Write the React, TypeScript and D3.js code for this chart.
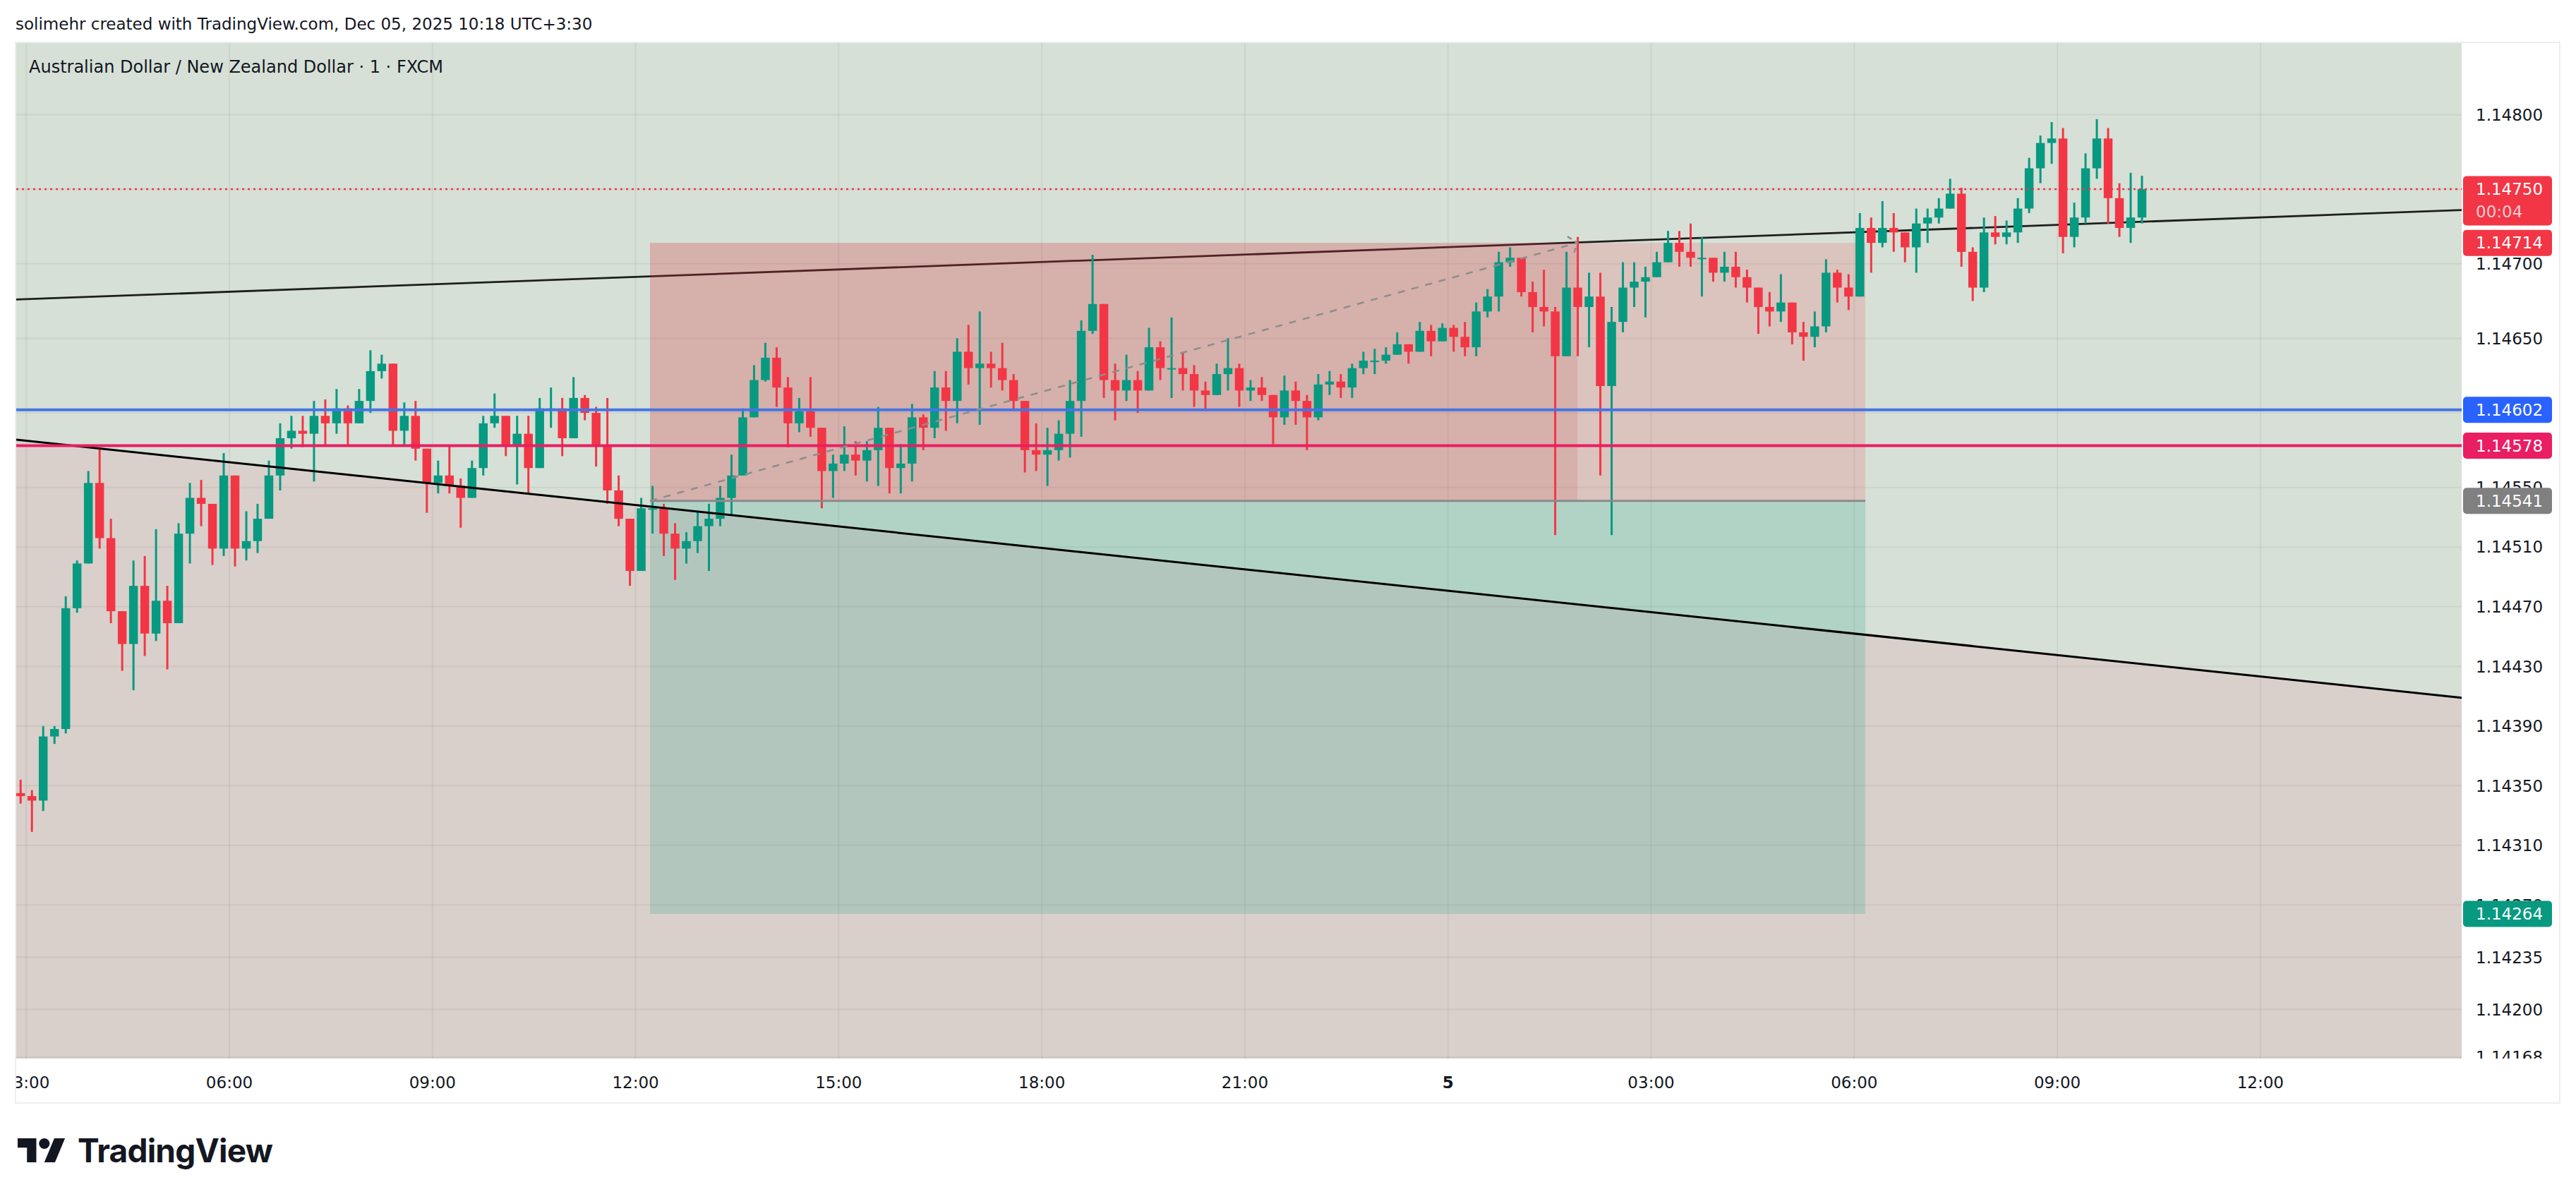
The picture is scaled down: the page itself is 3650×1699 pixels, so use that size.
import React, { useEffect, useRef } from 'react'
import * as d3 from 'd3'

const W = 3650, H = 1699
const plot = { left: 23, top: 61, right: 3488, bottom: 1500 }
const font = '"DejaVu Sans", Verdana, sans-serif'

// AUD/NZD, read off the 1 minute chart and grouped into 10 minute bars
// first bar starts 4 Dec 02:50, last one is 5 Dec 10:10
const firstBar = new Date(2025, 11, 4, 2, 50)
const barMinutes = 10
const firstOpen = 1.14345

const highs = [
  1.14354, 1.14347, 1.14390, 1.14390, 1.14477, 1.14501, 1.14561, 1.14576, 1.14529, 1.14457,
  1.14501, 1.14504, 1.14522, 1.14484, 1.14526, 1.14553, 1.14555, 1.14539, 1.14573, 1.14558,
  1.14534, 1.14539, 1.14568, 1.14593, 1.14598, 1.14598, 1.14608, 1.14609, 1.14616, 1.14605,
  1.14616, 1.14642, 1.14639, 1.14630, 1.14607, 1.14608, 1.14573, 1.14568, 1.14578, 1.14556,
  1.14568, 1.14598, 1.14613, 1.14598, 1.14598, 1.14598, 1.14610, 1.14617, 1.14610, 1.14624,
  1.14612, 1.14604, 1.14610, 1.14558, 1.14529, 1.14543, 1.14551, 1.14539, 1.14526, 1.14520,
  1.14534, 1.14539, 1.14551, 1.14572, 1.14603, 1.14632, 1.14647, 1.14644, 1.14624, 1.14610,
  1.14624, 1.14584, 1.14572, 1.14591, 1.14581, 1.14581, 1.14604, 1.14588, 1.14579, 1.14606,
  1.14599, 1.14628, 1.14628, 1.14650, 1.14659, 1.14668, 1.14641, 1.14647, 1.14626, 1.14608,
  1.14593, 1.14590, 1.14595, 1.14622, 1.14662, 1.14706, 1.14659, 1.14633, 1.14639, 1.14628,
  1.14657, 1.14648, 1.14664, 1.14641, 1.14632, 1.14621, 1.14633, 1.14650, 1.14633, 1.14622,
  1.14624, 1.14608, 1.14625, 1.14621, 1.14612, 1.14626, 1.14628, 1.14626, 1.14633, 1.14641,
  1.14643, 1.14644, 1.14654, 1.14646, 1.14661, 1.14659, 1.14660, 1.14659, 1.14661, 1.14674,
  1.14683, 1.14708, 1.14711, 1.14704, 1.14688, 1.14696, 1.14671, 1.14708, 1.14718, 1.14694,
  1.14694, 1.14671, 1.14701, 1.14701, 1.14698, 1.14708, 1.14722, 1.14722, 1.14727, 1.14718,
  1.14704, 1.14708, 1.14708, 1.14696, 1.14684, 1.14681, 1.14693, 1.14671, 1.14661, 1.14668,
  1.14703, 1.14696, 1.14693, 1.14734, 1.14731, 1.14742, 1.14734, 1.14718, 1.14737, 1.14737,
  1.14744, 1.14757, 1.14751, 1.14711, 1.14731, 1.14732, 1.14729, 1.14744, 1.14771, 1.14786,
  1.14795, 1.14791, 1.14741, 1.14774, 1.14797, 1.14791, 1.14754, 1.14761, 1.14759,
]

const lows = [
  1.14338, 1.14319, 1.14333, 1.14378, 1.14385, 1.14466, 1.14519, 1.14509, 1.14459, 1.14427,
  1.14414, 1.14437, 1.14447, 1.14428, 1.14459, 1.14499, 1.14524, 1.14498, 1.14504, 1.14497,
  1.14501, 1.14506, 1.14531, 1.14548, 1.14576, 1.14577, 1.14554, 1.14578, 1.14586, 1.14578,
  1.14595, 1.14600, 1.14623, 1.14578, 1.14578, 1.14568, 1.14533, 1.14546, 1.14546, 1.14523,
  1.14546, 1.14558, 1.14590, 1.14571, 1.14552, 1.14546, 1.14566, 1.14590, 1.14571, 1.14583,
  1.14595, 1.14564, 1.14539, 1.14524, 1.14484, 1.14494, 1.14519, 1.14504, 1.14488, 1.14499,
  1.14506, 1.14494, 1.14524, 1.14531, 1.14558, 1.14597, 1.14621, 1.14604, 1.14577, 1.14587,
  1.14584, 1.14536, 1.14543, 1.14561, 1.14558, 1.14554, 1.14551, 1.14546, 1.14546, 1.14554,
  1.14575, 1.14583, 1.14588, 1.14593, 1.14619, 1.14592, 1.14617, 1.14615, 1.14601, 1.14560,
  1.14561, 1.14551, 1.14568, 1.14570, 1.14584, 1.14653, 1.14610, 1.14595, 1.14608, 1.14600,
  1.14615, 1.14622, 1.14610, 1.14615, 1.14604, 1.14601, 1.14612, 1.14615, 1.14604, 1.14608,
  1.14608, 1.14579, 1.14592, 1.14592, 1.14575, 1.14595, 1.14612, 1.14610, 1.14610, 1.14626,
  1.14626, 1.14633, 1.14639, 1.14633, 1.14641, 1.14638, 1.14648, 1.14641, 1.14638, 1.14638,
  1.14664, 1.14668, 1.14698, 1.14678, 1.14654, 1.14658, 1.14518, 1.14638, 1.14638, 1.14644,
  1.14558, 1.14518, 1.14654, 1.14671, 1.14664, 1.14691, 1.14701, 1.14698, 1.14698, 1.14678,
  1.14688, 1.14688, 1.14684, 1.14674, 1.14653, 1.14658, 1.14661, 1.14646, 1.14635, 1.14644,
  1.14654, 1.14674, 1.14669, 1.14678, 1.14694, 1.14711, 1.14708, 1.14701, 1.14694, 1.14714,
  1.14727, 1.14737, 1.14698, 1.14675, 1.14681, 1.14713, 1.14713, 1.14714, 1.14734, 1.14754,
  1.14767, 1.14707, 1.14711, 1.14727, 1.14757, 1.14727, 1.14718, 1.14714, 1.14727,
]

const closes = [
  1.14343, 1.14340, 1.14383, 1.14388, 1.14469, 1.14499, 1.14553, 1.14516, 1.14467, 1.14445,
  1.14484, 1.14452, 1.14474, 1.14459, 1.14519, 1.14543, 1.14539, 1.14509, 1.14558, 1.14509,
  1.14514, 1.14529, 1.14558, 1.14583, 1.14588, 1.14586, 1.14598, 1.14593, 1.14603, 1.14593,
  1.14608, 1.14628, 1.14633, 1.14588, 1.14598, 1.14576, 1.14553, 1.14558, 1.14551, 1.14543,
  1.14563, 1.14593, 1.14598, 1.14578, 1.14586, 1.14563, 1.14603, 1.14603, 1.14583, 1.14610,
  1.14600, 1.14578, 1.14548, 1.14529, 1.14494, 1.14536, 1.14536, 1.14519, 1.14509, 1.14514,
  1.14524, 1.14529, 1.14543, 1.14558, 1.14597, 1.14622, 1.14637, 1.14617, 1.14593, 1.14601,
  1.14590, 1.14561, 1.14566, 1.14572, 1.14568, 1.14575, 1.14590, 1.14563, 1.14566, 1.14597,
  1.14590, 1.14617, 1.14608, 1.14641, 1.14630, 1.14633, 1.14630, 1.14622, 1.14608, 1.14575,
  1.14572, 1.14575, 1.14586, 1.14608, 1.14655, 1.14673, 1.14622, 1.14615, 1.14622, 1.14615,
  1.14644, 1.14630, 1.14630, 1.14626, 1.14615, 1.14612, 1.14626, 1.14630, 1.14615, 1.14617,
  1.14612, 1.14597, 1.14615, 1.14608, 1.14597, 1.14619, 1.14621, 1.14617, 1.14630, 1.14635,
  1.14635, 1.14639, 1.14646, 1.14641, 1.14655, 1.14648, 1.14657, 1.14651, 1.14644, 1.14668,
  1.14678, 1.14701, 1.14704, 1.14681, 1.14671, 1.14668, 1.14638, 1.14684, 1.14671, 1.14678,
  1.14618, 1.14661, 1.14684, 1.14688, 1.14691, 1.14701, 1.14714, 1.14708, 1.14704, 1.14704,
  1.14694, 1.14698, 1.14691, 1.14684, 1.14671, 1.14668, 1.14674, 1.14654, 1.14651, 1.14658,
  1.14694, 1.14684, 1.14678, 1.14724, 1.14714, 1.14724, 1.14721, 1.14711, 1.14727, 1.14731,
  1.14737, 1.14747, 1.14708, 1.14684, 1.14721, 1.14718, 1.14721, 1.14737, 1.14764, 1.14781,
  1.14784, 1.14718, 1.14731, 1.14764, 1.14784, 1.14744, 1.14724, 1.14731, 1.14750,
]

const timeDomain = [new Date(2025, 11, 4, 2, 51, 6), new Date(2025, 11, 5, 14, 58, 20)]
const priceDomain = [1.14167, 1.14848]

const priceTicks = [1.148, 1.1475, 1.147, 1.1465, 1.146, 1.1455, 1.1451, 1.1447, 1.1443,
  1.1439, 1.1435, 1.1431, 1.1427, 1.14235, 1.142, 1.14168]
const timeTicks = [
  new Date(2025, 11, 4, 3), new Date(2025, 11, 4, 6), new Date(2025, 11, 4, 9),
  new Date(2025, 11, 4, 12), new Date(2025, 11, 4, 15), new Date(2025, 11, 4, 18),
  new Date(2025, 11, 4, 21), new Date(2025, 11, 5, 0), new Date(2025, 11, 5, 3),
  new Date(2025, 11, 5, 6), new Date(2025, 11, 5, 9), new Date(2025, 11, 5, 12),
]
const timeLabels = ['03:00', '06:00', '09:00', '12:00', '15:00', '18:00', '21:00', '5',
  '03:00', '06:00', '09:00', '12:00']

// drawings
const upperTrend = [1.14676, 1.14736] // at left / right edge of the time domain
const lowerTrend = [1.14582, 1.14409]
const bluePrice = 1.14602
const pinkPrice = 1.14578
const shortEntry = 1.14541
const shortStop = 1.14714
const shortTarget = 1.14264
const shortStart = new Date(2025, 11, 4, 12, 12, 46)
const shortClosed = new Date(2025, 11, 5, 1, 54, 36)
const shortEnd = new Date(2025, 11, 5, 6, 9, 50)
const lastPrice = 1.1475
const countdown = '00:04'

const UP = '#089981', DOWN = '#f23645'

export default function App() {
  const ref = useRef<SVGSVGElement>(null)

  useEffect(() => {
    const svg = d3.select(ref.current)
    svg.selectAll('*').remove()

    const x = d3.scaleTime().domain(timeDomain).range([plot.left, plot.right])
    const y = d3.scaleLinear().domain(priceDomain).range([plot.bottom, plot.top])
    const fmt = d3.format('.5f')

    const defs = svg.append('defs')
    defs.append('clipPath').attr('id', 'plotClip').append('rect')
      .attr('x', plot.left).attr('y', plot.top)
      .attr('width', plot.right - plot.left).attr('height', plot.bottom - plot.top)
    defs.append('clipPath').attr('id', 'axisClip').append('rect')
      .attr('x', plot.right).attr('y', plot.top).attr('width', 200).attr('height', plot.bottom - plot.top)
    defs.append('clipPath').attr('id', 'timeClip').append('rect')
      .attr('x', plot.left - 2).attr('y', plot.bottom).attr('width', plot.right - plot.left + 2).attr('height', 70)

    svg.append('rect').attr('width', W).attr('height', H).attr('fill', '#ffffff')

    const g = svg.append('g').attr('clip-path', 'url(#plotClip)')

    // backgrounds
    g.append('rect')
      .attr('x', plot.left).attr('y', plot.top)
      .attr('width', plot.right - plot.left).attr('height', plot.bottom - plot.top)
      .attr('fill', '#d6e0d6')
    g.append('path')
      .attr('d', `M${plot.left},${y(lowerTrend[0])}L${plot.right},${y(lowerTrend[1])}L${plot.right},${plot.bottom}L${plot.left},${plot.bottom}Z`)
      .attr('fill', '#d9d0cb')

    // grid
    g.selectAll('.hgrid').data(priceTicks).enter().append('line')
      .attr('x1', plot.left).attr('x2', plot.right)
      .attr('y1', d => y(d)).attr('y2', d => y(d))
      .attr('stroke', 'rgba(0,0,0,0.05)').attr('stroke-width', 2)
    g.selectAll('.vgrid').data(timeTicks).enter().append('line')
      .attr('x1', d => x(d)).attr('x2', d => x(d))
      .attr('y1', plot.top).attr('y2', plot.bottom)
      .attr('stroke', 'rgba(0,0,0,0.05)').attr('stroke-width', 2)

    // upper trendline sits under the position box
    g.append('line')
      .attr('x1', x(timeDomain[0])).attr('y1', y(upperTrend[0]))
      .attr('x2', x(timeDomain[1])).attr('y2', y(upperTrend[1]))
      .attr('stroke', '#1e1e1e').attr('stroke-width', 2.8)

    // short position
    g.append('rect')
      .attr('x', x(shortStart)).attr('y', y(shortStop))
      .attr('width', x(shortEnd) - x(shortStart)).attr('height', y(shortEntry) - y(shortStop))
      .attr('fill', 'rgba(242,54,69,0.17)')
    g.append('rect')
      .attr('x', x(shortStart)).attr('y', y(shortStop))
      .attr('width', x(shortClosed) - x(shortStart)).attr('height', y(shortEntry) - y(shortStop))
      .attr('fill', 'rgba(180,40,40,0.12)')
    g.append('rect')
      .attr('x', x(shortStart)).attr('y', y(shortEntry))
      .attr('width', x(shortEnd) - x(shortStart)).attr('height', y(shortTarget) - y(shortEntry))
      .attr('fill', 'rgba(8,153,129,0.18)')

    // candles
    const bars = closes.map((c, i) => {
      const o = i === 0 ? firstOpen : closes[i - 1]
      return {
        t: d3.timeMinute.offset(firstBar, i * barMinutes),
        o, c,
        h: Math.max(highs[i], o, c),
        l: Math.min(lows[i], o, c),
      }
    })
    const slot = x(d3.timeMinute.offset(firstBar, barMinutes)) - x(firstBar)
    const bodyW = slot * 0.78
    const cx = (d: any) => x(d3.timeMinute.offset(d.t, barMinutes / 2))
    const candle = g.selectAll('.bar').data(bars).enter().append('g')
    candle.append('line')
      .attr('x1', cx).attr('x2', cx)
      .attr('y1', d => y(d.h)).attr('y2', d => y(d.l))
      .attr('stroke', d => d.c >= d.o ? UP : DOWN).attr('stroke-width', 3)
    candle.append('rect')
      .attr('x', d => cx(d) - bodyW / 2)
      .attr('y', d => y(Math.max(d.o, d.c)))
      .attr('width', bodyW)
      .attr('height', d => Math.max(2, Math.abs(y(d.o) - y(d.c))))
      .attr('fill', d => d.c >= d.o ? UP : DOWN)

    // lower trendline, horizontals
    g.append('line')
      .attr('x1', x(timeDomain[0])).attr('y1', y(lowerTrend[0]))
      .attr('x2', x(timeDomain[1])).attr('y2', y(lowerTrend[1]))
      .attr('stroke', '#000000').attr('stroke-width', 3)
    g.append('line')
      .attr('x1', plot.left).attr('x2', plot.right)
      .attr('y1', y(bluePrice)).attr('y2', y(bluePrice))
      .attr('stroke', '#4674e4').attr('stroke-width', 4)
    g.append('line')
      .attr('x1', plot.left).attr('x2', plot.right)
      .attr('y1', y(pinkPrice)).attr('y2', y(pinkPrice))
      .attr('stroke', '#e91e63').attr('stroke-width', 4)
    g.append('line')
      .attr('x1', x(shortStart)).attr('x2', x(shortEnd))
      .attr('y1', y(shortEntry)).attr('y2', y(shortEntry))
      .attr('stroke', '#8a8a8a').attr('stroke-width', 3)
    g.append('line')
      .attr('x1', x(shortStart)).attr('y1', y(shortEntry))
      .attr('x2', x(shortClosed)).attr('y2', y(shortStop))
      .attr('stroke', '#8d8d8d').attr('stroke-width', 2.5).attr('stroke-dasharray', '10 10')
    const ax = x(shortClosed), ay = y(shortStop)
    g.append('polyline')
      .attr('points', `${ax - 14},${ay - 9} ${ax},${ay} ${ax - 5},${ay + 15}`)
      .attr('fill', 'none').attr('stroke', '#8d8d8d').attr('stroke-width', 2.5)
      .attr('stroke-dasharray', '7 5')
    g.append('line')
      .attr('x1', plot.left).attr('x2', plot.right)
      .attr('y1', y(lastPrice)).attr('y2', y(lastPrice))
      .attr('stroke', DOWN).attr('stroke-width', 2.5).attr('stroke-dasharray', '3 5')

    // price axis
    const pa = svg.append('g').attr('clip-path', 'url(#axisClip)')
    pa.selectAll('.ptick').data(priceTicks).enter().append('text')
      .attr('x', 3508).attr('y', d => y(d))
      .attr('dy', '0.36em')
      .attr('font-family', font).attr('font-size', 23).attr('fill', '#131722')
      .text(d => fmt(d))

    const label = (p: number, fill: string, tall = false) => {
      const yy = y(p)
      pa.append('rect')
        .attr('x', 3490).attr('y', yy - 18.5)
        .attr('width', 126).attr('height', tall ? 70 : 37)
        .attr('rx', 5).attr('fill', fill)
      pa.append('text')
        .attr('x', 3508).attr('y', yy).attr('dy', '0.36em')
        .attr('font-family', font).attr('font-size', 23).attr('fill', '#ffffff')
        .text(fmt(p))
    }
    label(lastPrice, DOWN, true)
    pa.append('text')
      .attr('x', 3508).attr('y', y(lastPrice) + 32).attr('dy', '0.36em')
      .attr('font-family', font).attr('font-size', 23).attr('fill', 'rgba(255,255,255,0.75)')
      .text(countdown)
    label(shortStop, DOWN)
    label(bluePrice, '#2962ff')
    label(pinkPrice, '#e91e63')
    label(shortEntry, '#808080')
    label(shortTarget, UP)

    // time axis
    const ta = svg.append('g').attr('clip-path', 'url(#timeClip)')
    ta.selectAll('.ttick').data(timeTicks).enter().append('text')
      .attr('x', d => x(d)).attr('y', 1534).attr('dy', '0.36em')
      .attr('text-anchor', 'middle')
      .attr('font-family', font).attr('font-size', 23).attr('fill', '#131722')
      .attr('font-weight', (d, i) => timeLabels[i] === '5' ? 700 : 400)
      .text((d, i) => timeLabels[i])

    // frame
    svg.append('rect')
      .attr('x', 22).attr('y', 60).attr('width', 3605).attr('height', 1503)
      .attr('fill', 'none').attr('stroke', '#eeeeee').attr('stroke-width', 2)

    // header
    svg.append('text')
      .attr('x', 22).attr('y', 42)
      .attr('font-family', font).attr('font-size', 23).attr('fill', '#131722')
      .text('solimehr created with TradingView.com, Dec 05, 2025 10:18 UTC+3:30')
    svg.append('text')
      .attr('x', 41).attr('y', 103)
      .attr('font-family', font).attr('font-size', 24).attr('fill', '#131722')
      .text('Australian Dollar / New Zealand Dollar · 1 · FXCM')

    // logo
    const logo = svg.append('g').attr('transform', 'translate(25,1605.4) scale(1.89)')
    logo.append('path').attr('d', 'M14 22H7V11H0V4h14v18zM28 22h-8l7.5-18h8L28 22z').attr('fill', '#131722')
    logo.append('circle').attr('cx', 20).attr('cy', 8).attr('r', 4).attr('fill', '#131722')
    svg.append('text')
      .attr('x', 110).attr('y', 1647)
      .attr('font-family', 'Inter, "DejaVu Sans", sans-serif').attr('font-weight', 700)
      .attr('font-size', 46).attr('letter-spacing', -0.8).attr('fill', '#131722')
      .text('TradingView')
  }, [])

  return (
    <svg ref={ref} width={W} height={H}
      style={{ position: 'absolute', left: 0, top: 0, display: 'block' }} />
  )
}
